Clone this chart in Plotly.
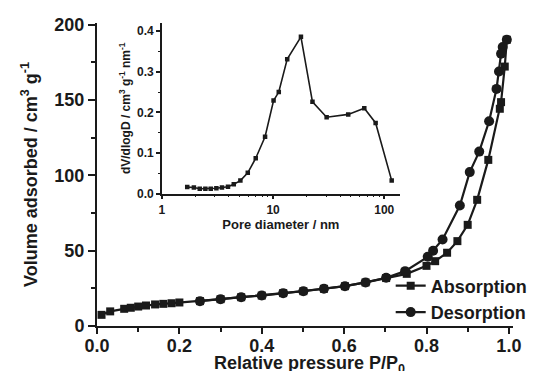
import plotly.graph_objects as go

# Main isotherm data
ads_p = [0.011, 0.032, 0.066, 0.082, 0.10, 0.119, 0.141, 0.161, 0.181, 0.20,
         0.25, 0.30, 0.35, 0.40, 0.452, 0.501, 0.551, 0.602, 0.652, 0.702,
         0.752, 0.800, 0.821, 0.850, 0.875, 0.900, 0.923, 0.950, 0.978, 0.981,
         0.990, 0.995]
ads_v = [7.4, 9.7, 11.4, 12.1, 12.9, 13.6, 14.3, 14.7, 15.1, 15.6,
         16.5, 17.8, 19.1, 20.2, 21.8, 23.1, 24.7, 26.4, 28.9, 31.8,
         34.6, 39.9, 43.0, 48.6, 56.3, 67.1, 83.7, 110.2, 144.1, 148.5,
         172.1, 189.9]

des_p = [0.995, 0.985, 0.981, 0.976, 0.970, 0.952, 0.928, 0.905, 0.881, 0.839,
         0.816, 0.803, 0.748, 0.702, 0.652, 0.602, 0.551, 0.501, 0.452, 0.40,
         0.35, 0.30, 0.25]
des_v = [189.9, 185.0, 180.6, 168.8, 157.3, 135.8, 115.7, 102.1, 79.9, 57.4,
         49.9, 45.9, 36.4, 32.0, 28.9, 26.4, 24.7, 23.1, 21.8, 20.2,
         19.1, 17.8, 16.5]

# Inset pore size distribution
pore_d = [1.69, 1.94, 2.19, 2.46, 2.75, 3.09, 3.47, 3.93, 4.43, 5.08, 5.92,
          6.98, 8.47, 10.1, 11.25, 13.4, 17.8, 22.6, 30.3, 47.4, 66.1, 83.6,
          116.6]
pore_v = [0.016, 0.015, 0.012, 0.012, 0.012, 0.013, 0.015, 0.017, 0.023,
          0.032, 0.051, 0.087, 0.140, 0.229, 0.250, 0.331, 0.386, 0.226,
          0.188, 0.195, 0.210, 0.174, 0.032]

# Tick labels
main_x_ticks = [0.0, 0.2, 0.4, 0.6, 0.8, 1.0]
main_x_labels = ["0.0", "0.2", "0.4", "0.6", "0.8", "1.0"]
main_y_ticks = [0, 50, 100, 150, 200]
main_y_labels = ["0", "50", "100", "150", "200"]
inset_x_ticks = [1, 10, 100]
inset_x_labels = ["1", "10", "100"]
inset_y_ticks = [0.0, 0.1, 0.2, 0.3, 0.4]
inset_y_labels = ["0.0", "0.1", "0.2", "0.3", "0.4"]

FONT = "Liberation Sans, Arial, sans-serif"
INK = "#1a1a1a"


def b(labels):
    return ["<b>%s</b>" % t for t in labels]


fig = go.Figure()
fig.add_trace(go.Scatter(x=ads_p, y=ads_v, mode="lines+markers", name="<b>Absorption</b>",
                         line=dict(color=INK, width=2.2),
                         marker=dict(symbol="square", size=8, color=INK)))
fig.add_trace(go.Scatter(x=des_p, y=des_v, mode="lines+markers", name="<b>Desorption</b>",
                         line=dict(color=INK, width=2.2),
                         marker=dict(symbol="circle", size=10, color=INK)))
fig.add_trace(go.Scatter(x=pore_d, y=pore_v, mode="lines+markers", showlegend=False,
                         xaxis="x2", yaxis="y2",
                         line=dict(color=INK, width=1.6),
                         marker=dict(symbol="square", size=4.5, color=INK)))


def ax(lw, **kw):
    d = dict(showline=True, linecolor=INK, linewidth=lw, ticks="outside",
             tickcolor=INK, tickwidth=lw, showgrid=False, zeroline=False, mirror=False,
             automargin=False)
    d.update(kw)
    return d


# page body has an 8px margin, so the figure is 8px smaller than the window
fig.update_layout(
    width=531, height=363,
    margin=dict(l=89, r=26, t=15, b=45, autoexpand=False),
    paper_bgcolor="white", plot_bgcolor="white",
    font=dict(family=FONT, color=INK),
    xaxis=ax(2, range=[0, 1.01], tickvals=main_x_ticks, ticktext=b(main_x_labels), ticklen=6,
             ticklabelstandoff=-4,
             minor=dict(ticks="outside", dtick=0.1, ticklen=4, tickcolor=INK, tickwidth=2),
             tickfont=dict(size=18, family=FONT)),
    yaxis=ax(2, range=[0, 201], tickvals=main_y_ticks, ticktext=b(main_y_labels), ticklen=7,
             minor=dict(ticks="outside", dtick=25, ticklen=4, tickcolor=INK, tickwidth=2),
             tickfont=dict(size=18, family=FONT),
             title=dict(text="<b>Volume adsorbed / cm<sup>3</sup> g<sup>-1</sup></b>", standoff=12,
                        font=dict(size=18, family=FONT))),
    xaxis2=ax(1.5, type="log", range=[0, 2.14], tickvals=inset_x_ticks,
              ticktext=b(inset_x_labels), ticklen=4,
              domain=[0.156, 0.728], anchor="y2",
              minor=dict(ticks="outside", tickvals=[2, 3, 4, 5, 6, 7, 8, 9, 20, 30, 40, 50, 60, 70, 80, 90],
                         ticklen=2, tickcolor=INK, tickwidth=1),
              tickfont=dict(size=12, family=FONT),
              title=dict(text="<b>Pore diameter / nm</b>", standoff=2,
                         font=dict(size=13, family=FONT))),
    yaxis2=ax(1.5, range=[0, 0.42], tickvals=inset_y_ticks, ticktext=b(inset_y_labels), ticklen=4,
              domain=[0.437, 1.0], anchor="x2",
              minor=dict(ticks="outside", dtick=0.05, ticklen=2, tickcolor=INK, tickwidth=1),
              tickfont=dict(size=12, family=FONT),
              title=dict(text="<b>dV/dlogD / cm<sup>3</sup> g<sup>-1</sup> nm<sup>-1</sup></b>", standoff=4,
                         font=dict(size=12, family=FONT))),
    legend=dict(x=0.706, y=0.193, xanchor="left", yanchor="top",
                bgcolor="rgba(0,0,0,0)", tracegroupgap=0,
                font=dict(size=18, family=FONT), itemwidth=30),
    annotations=[dict(text="<b>Relative pressure P/P<sub>0</sub></b>", xref="paper", yref="paper",
                      x=0.51, y=-0.083, xanchor="center", yanchor="top", showarrow=False,
                      font=dict(size=18, family=FONT, color=INK))],
)

fig.write_html("out.html")
